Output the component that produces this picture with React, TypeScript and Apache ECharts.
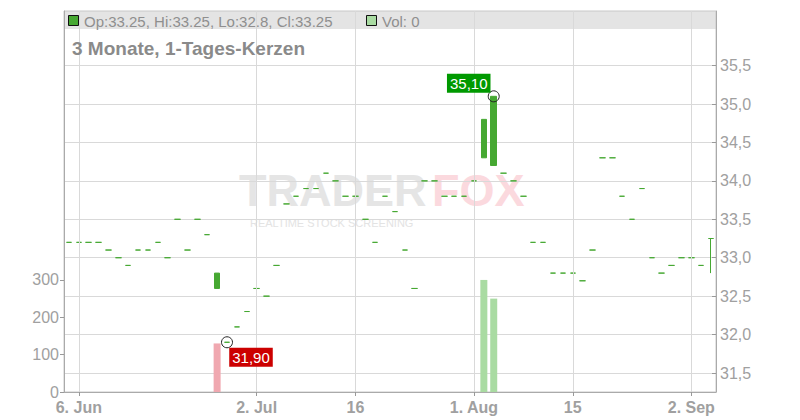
import React, { useEffect, useRef } from "react";
import * as echarts from "echarts";

const FONT = '"Liberation Sans", Arial, Helvetica, sans-serif';
const GREEN = "#46a832";
const VOL_UP = "#a9dba2";
const VOL_DOWN = "#f0a8b0";

// trading days (Xetra, 2024-06-05 .. 2024-09-04, weekdays, no holidays in range)
function tradingDays(start: string, end: string): string[] {
  const out: string[] = [];
  const d = new Date(start + "T12:00:00Z");
  const e = new Date(end + "T12:00:00Z");
  while (d <= e) {
    const wd = d.getUTCDay();
    if (wd !== 0 && wd !== 6) out.push(d.toISOString().slice(0, 10));
    d.setUTCDate(d.getUTCDate() + 1);
  }
  return out;
}
const dates = tradingDays("2024-06-05", "2024-09-04");

const closes = [
  33.2, 33.2, 33.2, 33.2, 33.1, 33.0, 32.9, 33.1, 33.1, 33.2,
  33.0, 33.5, 33.1, 33.5, 33.3, 32.8, 31.9, 32.1, 32.3, 32.6,
  32.5, 32.9, 33.7, 33.8, 33.9, 33.9, 34.1, 34.0, 33.8, 33.8,
  33.5, 33.2, 33.8, 33.6, 33.1, 32.6, 34.0, 34.0, 33.8, 33.8,
  33.8, 34.0, 34.8, 35.1, 34.1, 34.0, 33.8, 33.2, 33.2, 32.8,
  32.8, 32.8, 32.7, 33.1, 34.3, 34.3, 33.8, 33.5, 33.9, 33.0,
  32.8, 32.9, 33.0, 33.0, 32.9, 33.25,
];
const opens = [
  33.2, 33.2, 33.2, 33.2, 33.1, 33.0, 32.9, 33.1, 33.1, 33.2,
  33.0, 33.5, 33.1, 33.5, 33.3, 32.6, 31.9, 32.1, 32.3, 32.6,
  32.5, 32.9, 33.7, 33.8, 33.9, 33.9, 34.1, 34.0, 33.8, 33.8,
  33.5, 33.2, 33.8, 33.6, 33.1, 32.6, 34.0, 34.0, 33.8, 33.8,
  33.8, 34.0, 34.3, 34.2, 34.1, 34.0, 33.8, 33.2, 33.2, 32.8,
  32.8, 32.8, 32.7, 33.1, 34.3, 34.3, 33.8, 33.5, 33.9, 33.0,
  32.8, 32.9, 33.0, 33.0, 32.9, 33.25,
];
const highs = [
  33.2, 33.2, 33.2, 33.2, 33.1, 33.0, 32.9, 33.1, 33.1, 33.2,
  33.0, 33.5, 33.1, 33.5, 33.3, 32.8, 31.9, 32.1, 32.3, 32.6,
  32.5, 32.9, 33.7, 33.8, 33.9, 33.9, 34.1, 34.0, 33.8, 33.8,
  33.5, 33.2, 33.8, 33.6, 33.1, 32.6, 34.0, 34.0, 33.8, 33.8,
  33.8, 34.0, 34.8, 35.1, 34.1, 34.0, 33.8, 33.2, 33.2, 32.8,
  32.8, 32.8, 32.7, 33.1, 34.3, 34.3, 33.8, 33.5, 33.9, 33.0,
  32.8, 32.9, 33.0, 33.0, 32.9, 33.25,
];
const lows = [
  33.2, 33.2, 33.2, 33.2, 33.1, 33.0, 32.9, 33.1, 33.1, 33.2,
  33.0, 33.5, 33.1, 33.5, 33.3, 32.6, 31.9, 32.1, 32.3, 32.6,
  32.5, 32.9, 33.7, 33.8, 33.9, 33.9, 34.1, 34.0, 33.8, 33.8,
  33.5, 33.2, 33.8, 33.6, 33.1, 32.6, 34.0, 34.0, 33.8, 33.8,
  33.8, 34.0, 34.3, 34.2, 34.1, 34.0, 33.8, 33.2, 33.2, 32.8,
  32.8, 32.8, 32.7, 33.1, 34.3, 34.3, 33.8, 33.5, 33.9, 33.0,
  32.8, 32.9, 33.0, 33.0, 32.9, 32.8,
];
const volumes = [
  0, 0, 0, 0, 0, 0, 0, 0, 0, 0,
  0, 0, 0, 0, 0, 130, 0, 0, 0, 0,
  0, 0, 0, 0, 0, 0, 0, 0, 0, 0,
  0, 0, 0, 0, 0, 0, 0, 0, 0, 0,
  0, 0, 300, 250, 0, 0, 0, 0, 0, 0,
  0, 0, 0, 0, 0, 0, 0, 0, 0, 0,
  0, 0, 0, 0, 0, 0,
];

const tickDates = ["2024-06-06", "2024-07-02", "2024-07-16", "2024-08-01", "2024-08-15", "2024-09-02"];
const tickLabels = ["6. Jun", "2. Jul", "16", "1. Aug", "15", "2. Sep"];
const priceTicks = [31.5, 32, 32.5, 33, 33.5, 34, 34.5, 35, 35.5];
const volumeTicks = [0, 100, 200, 300];

const title = "3 Monate, 1-Tages-Kerzen";

export default function App() {
  const ref = useRef<HTMLDivElement>(null);
  useEffect(() => {
    if (!ref.current) return;
    const chart = echarts.init(ref.current, undefined, { renderer: "svg" });
    const n = dates.length;
    const last = n - 1;
    let hiIdx = 0;
    let loIdx = 0;
    for (let i = 0; i < n; i++) {
      if (highs[i] > highs[hiIdx]) hiIdx = i;
      if (lows[i] < lows[loIdx]) loIdx = i;
    }
    const fmt = (v: number) => v.toFixed(2).replace(".", ",");
    const legendText = `Op:${opens[last]}, Hi:${highs[last]}, Lo:${lows[last]}, Cl:${closes[last]}`;
    const isTick = (_i: number, v: string) => tickDates.indexOf(v) >= 0;

    const option: any = {
      animation: false,
      backgroundColor: "#ffffff",
      textStyle: { fontFamily: FONT },
      grid: {
        left: 64,
        right: 84,
        top: 11,
        bottom: 28,
        show: true,
        borderColor: "#c8c8c8",
        borderWidth: 1,
        backgroundColor: "transparent",
      },
      xAxis: {
        type: "category",
        data: dates,
        boundaryGap: true,
        axisLine: { show: true, lineStyle: { color: "#aaaaaa" } },
        axisTick: { show: true, alignWithLabel: true, interval: isTick, length: 4, lineStyle: { color: "#999999" } },
        axisLabel: {
          interval: isTick,
          formatter: (v: string) => tickLabels[tickDates.indexOf(v)] ?? "",
          color: "#a0a0a0",
          fontSize: 16,
          fontWeight: "bold",
          fontFamily: FONT,
          margin: 7,
        },
        splitLine: { show: false },
      },
      yAxis: [
        {
          type: "value",
          position: "left",
          min: 0,
          max: 1020,
          axisLine: { show: true, lineStyle: { color: "#aaaaaa" } },
          axisTick: { show: true, length: 4, customValues: volumeTicks, lineStyle: { color: "#999999" } },
          axisLabel: { customValues: volumeTicks, color: "#a0a0a0", fontSize: 16, margin: 5, fontFamily: FONT },
          splitLine: { show: false },
        },
        {
          type: "value",
          position: "right",
          min: 31.253,
          max: 36.21,
          axisLine: { show: true, lineStyle: { color: "#aaaaaa" } },
          axisTick: { show: true, inside: true, length: 4, customValues: priceTicks, lineStyle: { color: "#999999" } },
          axisLabel: {
            customValues: priceTicks,
            formatter: (v: number) => v.toFixed(1).replace(".", ","),
            color: "#a0a0a0",
            fontSize: 16,
            margin: 4,
            fontFamily: FONT,
          },
          splitLine: { show: true, lineStyle: { color: "#d9d9d9", width: 1 } },
        },
      ],
      graphic: [
        { type: "rect", z: -1, silent: true, shape: { x: 64, y: 11, width: 652, height: 18 }, style: { fill: "#e4e4e4" } },
        {
          type: "text", z: -1, silent: true, x: 239, y: 190,
          style: { text: "TRADER", fontSize: 45, lineHeight: 34, fontWeight: "bold", fontFamily: FONT, fill: "#e5e5e5", verticalAlign: "middle" },
        },
        {
          type: "text", z: -1, silent: true, x: 432, y: 190,
          style: { text: "FOX", fontSize: 45, lineHeight: 34, fontWeight: "bold", fontFamily: FONT, fill: "#fbd9de", verticalAlign: "middle" },
        },
        {
          type: "text", z: -1, silent: true, x: 250, y: 223,
          style: { text: "REALTIME STOCK SCREENING", fontSize: 11, lineHeight: 11, fontFamily: FONT, fill: "#e3e3e3", verticalAlign: "middle" },
        },
        { type: "rect", z: 10, shape: { x: 68.5, y: 15.5, width: 10, height: 10 }, style: { fill: GREEN, stroke: "#111", lineWidth: 1 } },
        {
          type: "text", z: 10, x: 84, y: 21,
          style: { text: legendText, fontSize: 15, fontFamily: FONT, fill: "#8f8f8f", verticalAlign: "middle" },
        },
        { type: "rect", z: 10, shape: { x: 366.5, y: 15.5, width: 10, height: 10 }, style: { fill: VOL_UP, stroke: "#111", lineWidth: 1 } },
        {
          type: "text", z: 10, x: 382, y: 21,
          style: { text: `Vol: ${volumes[last]}`, fontSize: 15, fontFamily: FONT, fill: "#8f8f8f", verticalAlign: "middle" },
        },
        {
          type: "text", z: 10, x: 72, y: 48,
          style: { text: title, fontSize: 19, fontWeight: "bold", fontFamily: FONT, fill: "#8a8a8a", verticalAlign: "middle" },
        },
      ],
      series: [
        {
          type: "bar",
          name: "Vol",
          xAxisIndex: 0,
          yAxisIndex: 0,
          barWidth: 7,
          z: 1,
          data: volumes.map((v, i) => ({
            value: v,
            itemStyle: { color: i > 0 && closes[i] < closes[i - 1] ? VOL_DOWN : VOL_UP },
          })),
          markLine: {
            silent: true,
            symbol: ["none", "none"],
            label: { show: false },
            lineStyle: { color: "#d9d9d9", width: 1, type: "solid" },
            emphasis: { disabled: true },
            data: tickDates.map((d) => ({ xAxis: d })),
          },
        },
        {
          type: "candlestick",
          name: "Kurs",
          xAxisIndex: 0,
          yAxisIndex: 1,
          barWidth: 6,
          z: 3,
          data: dates.map((_, i) => [opens[i], closes[i], lows[i], highs[i]]),
          itemStyle: { color: GREEN, color0: GREEN, borderColor: GREEN, borderColor0: GREEN, borderWidth: 1 },
          markPoint: {
            symbol: "circle",
            symbolSize: 11,
            silent: true,
            itemStyle: { color: "rgba(255,255,255,0)", borderColor: "#222", borderWidth: 1 },
            label: { show: true, position: "inside", color: "#ffffff", fontSize: 15, fontFamily: FONT, padding: [2, 3], lineHeight: 15 },
            data: [
              {
                coord: [dates[hiIdx], highs[hiIdx]],
                label: { formatter: fmt(highs[hiIdx]), backgroundColor: "#009900", offset: [-25, -13] },
              },
              {
                coord: [dates[loIdx], lows[loIdx]],
                label: { formatter: fmt(lows[loIdx]), backgroundColor: "#cc0000", offset: [24, 15] },
              },
            ],
          },
        },
      ],
    };
    chart.setOption(option);
    return () => chart.dispose();
  }, []);
  return <div ref={ref} style={{ position: "fixed", left: 0, top: 0, width: 800, height: 420 }} />;
}
